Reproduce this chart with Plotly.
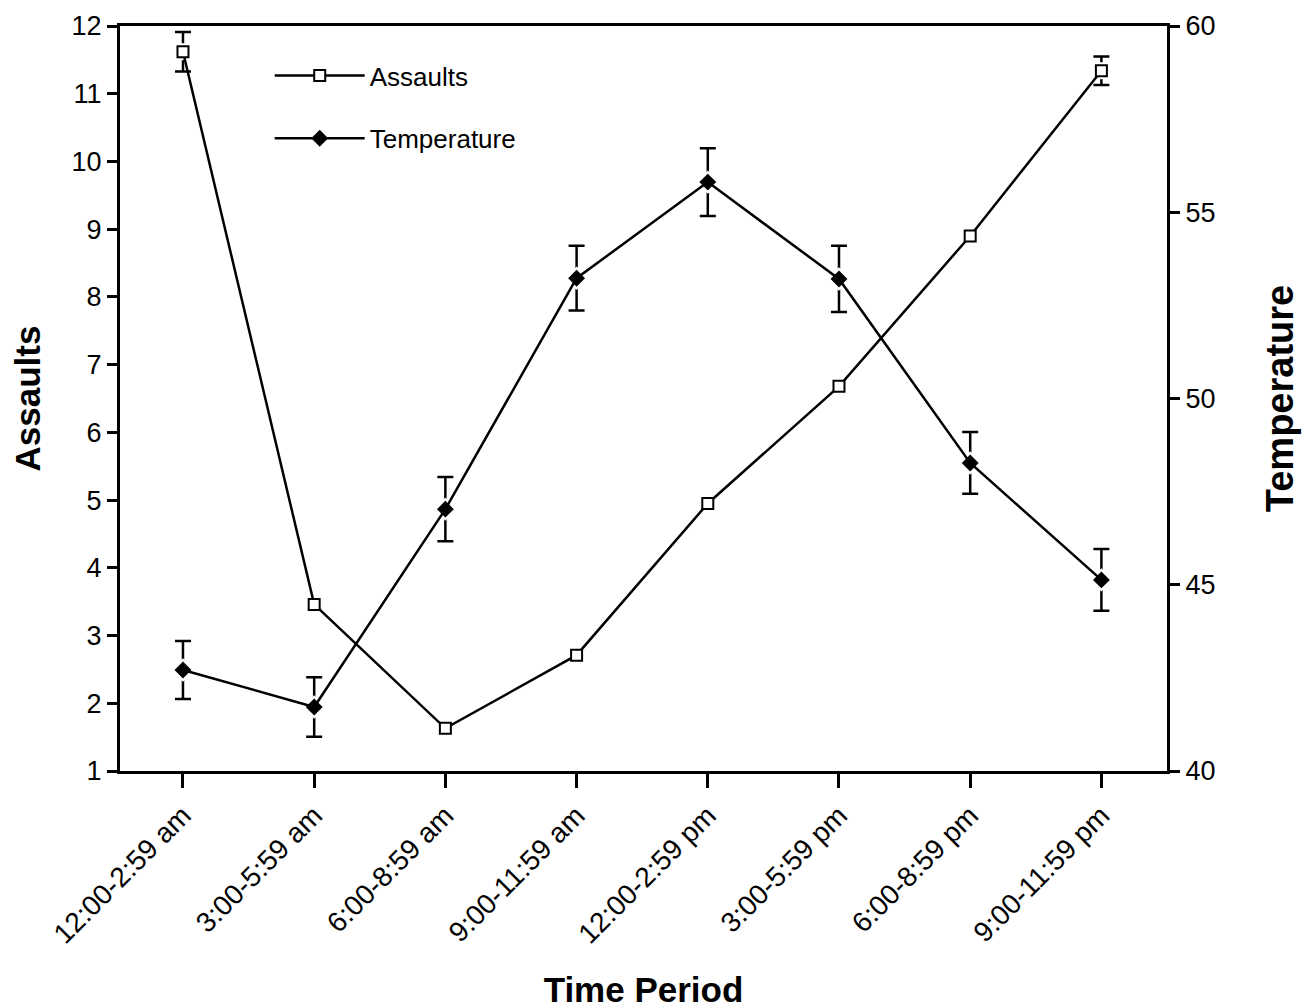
import plotly.graph_objects as go

periods = ["12:00-2:59 am", "3:00-5:59 am", "6:00-8:59 am", "9:00-11:59 am",
           "12:00-2:59 pm", "3:00-5:59 pm", "6:00-8:59 pm", "9:00-11:59 pm"]
assaults = [11.62, 3.46, 1.63, 2.71, 4.95, 6.68, 8.90, 11.34]
assaults_err = [0.29, 0, 0, 0, 0, 0, 0, 0.21]
temperature = [42.71, 41.72, 47.03, 53.23, 55.81, 53.21, 48.27, 45.13]
temperature_err = [0.78, 0.80, 0.86, 0.87, 0.91, 0.89, 0.83, 0.83]

FONT = "Liberation Sans, Arial, Helvetica, sans-serif"

fig = go.Figure()

# error bars (drawn first, under markers)
fig.add_trace(go.Scatter(x=periods, y=assaults, mode="markers",
                         marker=dict(size=1, color="rgba(0,0,0,0)"),
                         error_y=dict(type="data", array=assaults_err, color="black",
                                      thickness=2.5, width=8),
                         showlegend=False, hoverinfo="skip", yaxis="y"))
fig.add_trace(go.Scatter(x=periods, y=assaults, mode="markers",
                         marker=dict(symbol="square", size=17, color="white"),
                         showlegend=False, hoverinfo="skip", yaxis="y"))
fig.add_trace(go.Scatter(x=periods, y=assaults, mode="lines+markers", name="Assaults",
                         line=dict(color="black", width=2.5),
                         marker=dict(symbol="square", size=11, color="white",
                                     line=dict(color="black", width=2)),
                         legendgroup="a", yaxis="y"))

fig.add_trace(go.Scatter(x=periods, y=temperature, mode="markers",
                         marker=dict(size=1, color="rgba(0,0,0,0)"),
                         error_y=dict(type="data", array=temperature_err, color="black",
                                      thickness=2.5, width=8),
                         showlegend=False, hoverinfo="skip", yaxis="y2"))
fig.add_trace(go.Scatter(x=periods, y=temperature, mode="markers",
                         marker=dict(symbol="diamond", size=18, color="white"),
                         showlegend=False, hoverinfo="skip", yaxis="y2"))
fig.add_trace(go.Scatter(x=periods, y=temperature, mode="lines+markers", name="Temperature",
                         line=dict(color="black", width=2.5),
                         marker=dict(symbol="diamond", size=13, color="black"),
                         legendgroup="b", yaxis="y2"))

fig.update_layout(
    width=1314, height=1007,
    margin=dict(l=112, r=155, t=18, b=244),
    paper_bgcolor="white", plot_bgcolor="white",
    font=dict(family=FONT, color="black", size=27),
    xaxis=dict(type="category", range=[-0.48, 7.5], showline=True, linecolor="black",
               linewidth=3, mirror=True, ticks="outside", ticklen=14, tickwidth=2.5,
               tickcolor="black", tickangle=-45, showgrid=False, zeroline=False,
               tickfont=dict(size=28), automargin=False,
               title=dict(text="<b>Time Period</b>", font=dict(size=35), standoff=30)),
    yaxis=dict(range=[1, 12], dtick=1, tick0=1, showline=True, linecolor="black",
               linewidth=3, ticks="outside", ticklen=10, tickwidth=2.5,
               tickcolor="black", showgrid=False, zeroline=False,
               tickfont=dict(size=27), automargin=False,
               title=dict(text="<b>Assaults</b>", font=dict(size=35), standoff=22)),
    yaxis2=dict(range=[40, 60], dtick=5, overlaying="y", side="right", showline=True,
                linecolor="black", linewidth=3, ticks="outside", ticklen=10, tickwidth=2.5,
                tickcolor="black", showgrid=False, zeroline=False,
                tickfont=dict(size=27), automargin=False,
                title=dict(text="<b>Temperature</b>", font=dict(size=38), standoff=52)),
    legend=dict(x=0.143, y=0.965, xanchor="left", yanchor="top", bgcolor="rgba(0,0,0,0)",
                font=dict(size=26), tracegroupgap=26, itemwidth=90),
    showlegend=True,
)

fig.write_html("out.html")
